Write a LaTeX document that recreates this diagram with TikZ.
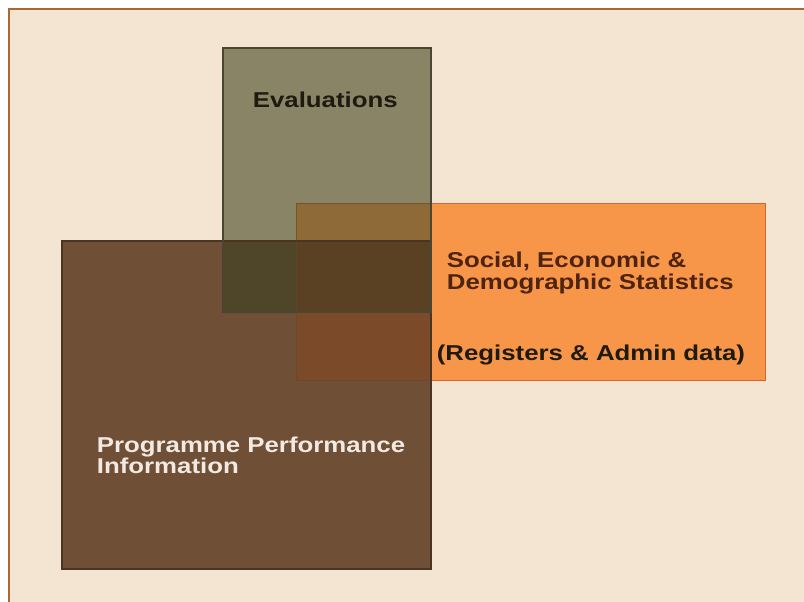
\documentclass[tikz,border=0pt]{standalone}
\usepackage{fontspec}
\setmainfont{Liberation Sans}
\definecolor{bgc}{HTML}{F4E5D3}
\definecolor{framec}{HTML}{A86A30}
\definecolor{evalc}{HTML}{8A8467}
\definecolor{progc}{HTML}{6F5037}
\definecolor{orc}{HTML}{F79548}
\definecolor{epc}{HTML}{4F4529}
\definecolor{eoc}{HTML}{8D6A37}
\definecolor{poc}{HTML}{7B4B29}
\definecolor{epoc}{HTML}{5A4123}
\definecolor{evaledge}{HTML}{4B4532}
\definecolor{progedge}{HTML}{4A3520}
\definecolor{oredge}{HTML}{D9642E}
\definecolor{inedge}{HTML}{6A4526}
\definecolor{txtdark}{HTML}{1E1A10}
\definecolor{txtbrown}{HTML}{4E2410}
\definecolor{txtwhite}{HTML}{F2EAE2}
\tikzset{
  lbl/.style={anchor=base west, inner sep=0pt, font=\fontsize{21.5}{21}\selectfont\bfseries},
}
\newcommand{\wide}[1]{\scalebox{1.2}[1]{#1}}
\begin{document}
\begin{tikzpicture}[x=1pt,y=-1pt]
\useasboundingbox (0,0) rectangle (804,602);
\fill[white] (0,0) rectangle (804,602);
\fill[bgc] (9,9) rectangle (804,602);
\draw[framec, line width=2pt] (9,602) -- (9,9) -- (804,9);
% whole rectangles
\fill[evalc] (223,48) rectangle (431,312);
\fill[progc] (62,241) rectangle (431,569);
\fill[orc] (296,203) rectangle (765,380);
% overlaps
\fill[eoc] (296,203) rectangle (431,241);
\fill[epc] (223,241) rectangle (296,312);
\fill[epoc] (296,241) rectangle (431,312);
\fill[poc] (296,312) rectangle (431,380);
% outlines
\draw[oredge, line width=1pt] (431,203) -- (765,203) -- (765,380) -- (431,380);
\draw[inedge, line width=0.8pt, opacity=0.6] (431,203) -- (296,203) -- (296,380) -- (431,380);
\draw[progedge, line width=1.2pt] (62,241) rectangle (431,569);
\draw[evaledge, line width=1.2pt] (223,48) rectangle (431,312);
% labels
\node[lbl, text=txtdark] (eval) at (252.7,107.3) {\wide{Evaluations}};
\node[lbl, text=txtbrown] (soc1) at (446.7,267.7) {\wide{Social, Economic \&}};
\node[lbl, text=txtbrown] (soc2) at (446.7,289.3) {\wide{Demographic Statistics}};
\node[lbl, text=txtdark] (reg) at (436.7,360) {\wide{(Registers \& Admin data)}};
\node[lbl, text=txtwhite] (prog1) at (96.7,452.7) {\wide{Programme Performance}};
\node[lbl, text=txtwhite] (prog2) at (96.7,473.2) {\wide{Information}};
\end{tikzpicture}
\end{document}
